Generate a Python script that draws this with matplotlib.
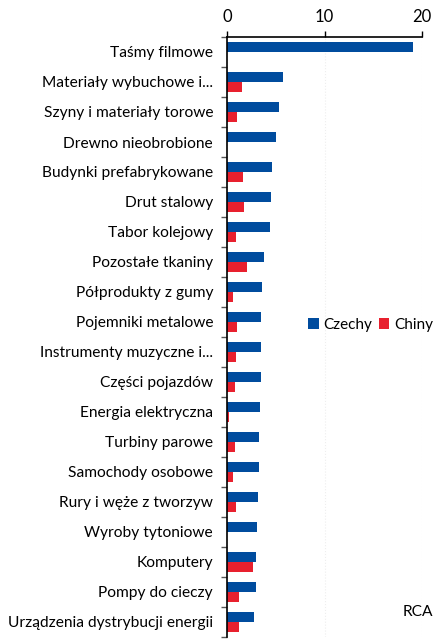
import numpy as np
import matplotlib
matplotlib.use("Agg")
import matplotlib.pyplot as plt

categories = [
    "Taśmy filmowe", "Materiały wybuchowe i...", "Szyny i materiały torowe",
    "Drewno nieobrobione", "Budynki prefabrykowane", "Drut stalowy",
    "Tabor kolejowy", "Pozostałe tkaniny", "Półprodukty z gumy",
    "Pojemniki metalowe", "Instrumenty muzyczne i...", "Części pojazdów",
    "Energia elektryczna", "Turbiny parowe", "Samochody osobowe",
    "Rury i węże z tworzyw", "Wyroby tytoniowe", "Komputery",
    "Pompy do cieczy", "Urządzenia dystrybucji energii",
]
czechy = [19.0, 5.7, 5.3, 5.0, 4.65, 4.55, 4.45, 3.75, 3.55, 3.5,
          3.48, 3.45, 3.38, 3.3, 3.28, 3.2, 3.04, 2.97, 2.94, 2.77]
chiny = [0.0, 1.5, 1.0, 0.0, 1.65, 1.7, 0.9, 2.08, 0.65, 1.02,
         0.92, 0.85, 0.17, 0.8, 0.58, 0.92, 0.0, 2.63, 1.2, 1.27]

plt.rcParams['font.family'] = ['Lato', 'DejaVu Sans']

fig = plt.figure(figsize=(4.35, 6.39), dpi=100)
ax = fig.add_axes([227 / 435, 2 / 639, 195.3 / 435, 600 / 639])

y = np.arange(len(categories))
h = 0.33
ax.barh(y - 0.17, czechy, height=h, color='#004C9E', label='Czechy')
ax.barh(y + 0.17, chiny, height=h, color='#E8202E', label='Chiny')

ax.set_ylim(len(categories) - 0.5, -0.5)
ax.set_xlim(0, 20)
ax.set_xticks([0, 10, 20])
ax.xaxis.tick_top()
ax.tick_params(axis='x', length=4, width=1, labelsize=12, pad=5, color='black')

ax.set_yticks(y)
ax.set_yticklabels(categories, fontsize=11.2)
ax.tick_params(axis='y', length=0, pad=10)
ax.set_yticks(np.arange(len(categories) + 1) - 0.5, minor=True)
ax.tick_params(axis='y', which='minor', length=4, width=1, color='#555555')

for s in ['right', 'bottom']:
    ax.spines[s].set_visible(False)
ax.spines['left'].set_linewidth(1.2)
ax.spines['top'].set_linewidth(1.2)

ax.grid(axis='x', color='#eeeeee', linestyle=':', linewidth=0.8)
ax.set_axisbelow(True)

fig.legend(loc='center right', bbox_to_anchor=(433 / 435, 1 - 325 / 639),
           ncol=2, frameon=False, fontsize=11, handlelength=0.7,
           handleheight=0.7, handletextpad=0.3, columnspacing=0.4,
           borderaxespad=0, borderpad=0)

fig.text(433 / 435, 1 - 612 / 639, "RCA", ha='right', va='center', fontsize=11.2)

plt.savefig("out.png", dpi=100)
